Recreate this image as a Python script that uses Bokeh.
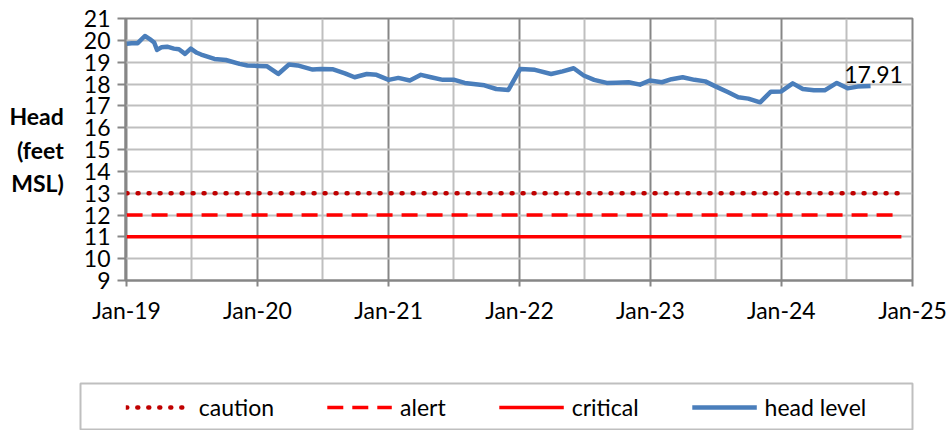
import pandas as pd
from bokeh.plotting import figure
from bokeh.layouts import column
from bokeh.models import (Range1d, FixedTicker, Legend, LegendItem, ColumnDataSource)
from bokeh.core.properties import value
from bokeh.embed import file_html
from bokeh.resources import INLINE

# ---------------- data ----------------
head_dates = ["2019-01-01", "2019-01-15", "2019-02-01", "2019-02-21", "2019-03-10", "2019-03-19",
              "2019-03-27", "2019-04-08", "2019-04-24", "2019-05-13", "2019-05-27", "2019-06-13",
              "2019-06-29", "2019-07-16", "2019-07-28", "2019-09-03", "2019-10-05", "2019-11-12",
              "2019-12-04", "2020-01-01", "2020-01-28", "2020-02-28", "2020-03-29", "2020-04-22",
              "2020-06-03", "2020-06-26", "2020-07-28", "2020-09-01", "2020-09-28", "2020-11-01",
              "2020-11-28", "2021-01-01", "2021-01-28", "2021-03-01", "2021-04-01", "2021-04-29",
              "2021-06-01", "2021-07-01", "2021-08-01", "2021-09-25", "2021-10-28", "2021-12-01",
              "2022-01-03", "2022-02-13", "2022-03-30", "2022-05-01", "2022-06-01", "2022-06-29",
              "2022-07-28", "2022-09-01", "2022-09-28", "2022-11-01", "2022-12-03", "2022-12-30",
              "2023-02-02", "2023-03-01", "2023-04-01", "2023-05-04", "2023-06-03", "2023-07-03",
              "2023-08-06", "2023-09-03", "2023-10-01", "2023-11-03", "2023-12-03", "2024-01-01",
              "2024-02-02", "2024-03-01", "2024-04-01", "2024-05-01", "2024-06-04", "2024-07-04",
              "2024-08-01", "2024-09-06"]
head_values = [19.84, 19.87, 19.87, 20.20, 20.02, 19.90,
               19.56, 19.68, 19.71, 19.62, 19.59, 19.38,
               19.62, 19.43, 19.35, 19.15, 19.10, 18.92,
               18.85, 18.83, 18.81, 18.46, 18.89, 18.85,
               18.66, 18.69, 18.68, 18.49, 18.31, 18.46,
               18.42, 18.19, 18.28, 18.16, 18.42, 18.31,
               18.19, 18.20, 18.05, 17.94, 17.77, 17.73,
               18.69, 18.65, 18.46, 18.58, 18.72, 18.39,
               18.19, 18.05, 18.06, 18.08, 17.97, 18.16,
               18.08, 18.22, 18.31, 18.19, 18.12, 17.88,
               17.62, 17.39, 17.33, 17.16, 17.65, 17.66,
               18.03, 17.77, 17.71, 17.71, 18.05, 17.80,
               17.88, 17.91]

threshold_dates = ["2019-01-01", "2024-12-01"]
caution_level = 13
alert_level = 12
critical_level = 11

x_tick_dates = ["2019-01-01", "2020-01-01", "2021-01-01", "2022-01-01",
                "2023-01-01", "2024-01-01", "2025-01-01"]
x_tick_labels = ["Jan-19", "Jan-20", "Jan-21", "Jan-22", "Jan-23", "Jan-24", "Jan-25"]
x_minor_dates = ["2019-07-01", "2020-07-01", "2021-07-01", "2022-07-01",
                 "2023-07-01", "2024-07-01"]
y_ticks = list(range(9, 22))
legend_labels = ["caution", "alert", "critical", "head level"]

# ---------------- styles ----------------
def ms(d):
    return pd.Timestamp(d).value / 1e6

FONT = "Lato"
FS = "23px"
CAUTION = dict(line_color="#C00000", line_width=4.5, line_dash="1 10", line_cap="round")
ALERT = dict(line_color="#FF0000", line_width=3.5, line_dash="16 9")
CRITICAL = dict(line_color="#FF0000", line_width=3.5)
HEAD = dict(line_color="#4A7EBB", line_width=4.5, line_join="round")

hx = pd.to_datetime(head_dates)
tx = pd.to_datetime(threshold_dates)

# ---------------- main chart ----------------
fig = figure(
    x_axis_type="datetime",
    frame_width=787, frame_height=262,
    min_border_left=125, min_border_right=38, min_border_top=18, min_border_bottom=60,
    output_backend="svg", toolbar_location=None,
    x_range=Range1d(ms("2018-12-29"), ms("2025-01-01")),
    y_range=Range1d(9, 21),
)
fig.background_fill_color = "white"
fig.border_fill_color = "white"
fig.outline_line_color = "#868686"
fig.outline_line_width = 2

fig.xgrid.grid_line_color = "#868686"
fig.xgrid.grid_line_width = 2
fig.xgrid.minor_grid_line_color = "#BFBFBF"
fig.xgrid.minor_grid_line_width = 2
fig.ygrid.grid_line_color = "#BFBFBF"
fig.ygrid.grid_line_width = 2

xt = [ms(d) for d in x_tick_dates]
fig.xaxis.ticker = FixedTicker(ticks=xt, minor_ticks=[ms(d) for d in x_minor_dates])
fig.xaxis.major_label_overrides = {t: lab for t, lab in zip(xt, x_tick_labels)}
fig.yaxis.ticker = FixedTicker(ticks=y_ticks, minor_ticks=[])
for ax in (fig.xaxis[0], fig.yaxis[0]):
    ax.axis_line_color = "#868686"
    ax.axis_line_width = 2
    ax.major_tick_line_color = "#868686"
    ax.major_tick_line_width = 2
    ax.major_tick_in = 0
    ax.minor_tick_in = 0
    ax.minor_tick_out = 0
    ax.major_label_text_font = FONT
    ax.major_label_text_font_size = FS
    ax.major_label_text_color = "black"
fig.xaxis.major_tick_out = 6
fig.xaxis.major_label_standoff = 9
fig.yaxis.major_tick_out = 8
fig.yaxis.major_label_standoff = 7

fig.yaxis.axis_label = "Head\n(feet\nMSL)"
fig.yaxis.axis_label_orientation = "horizontal"
fig.yaxis.axis_label_text_font = FONT
fig.yaxis.axis_label_text_font_size = FS
fig.yaxis.axis_label_text_font_style = "bold"
fig.yaxis.axis_label_text_color = "black"
fig.yaxis.axis_label_standoff = 17
fig.yaxis.axis_label_text_align = "center"

fig.line(tx, [caution_level] * len(tx), **CAUTION)
fig.line(tx, [alert_level] * len(tx), **ALERT)
fig.line(tx, [critical_level] * len(tx), **CRITICAL)
fig.line(hx, head_values, **HEAD)

last = ColumnDataSource(dict(x=[hx[-1]], y=[head_values[-1]], t=[f"{head_values[-1]:.2f}"]))
fig.text(x="x", y="y", text="t", source=last, text_align="center", text_baseline="bottom",
         y_offset=-3, x_offset=3, text_font=value(FONT), text_font_size=FS, text_color="black")

# ---------------- legend strip ----------------
leg = figure(
    frame_width=832, frame_height=47,
    min_border_left=80, min_border_right=38, min_border_top=43, min_border_bottom=0,
    output_backend="svg", toolbar_location=None,
    x_axis_location=None, y_axis_location=None,
    x_range=Range1d(0, 1), y_range=Range1d(0, 1),
)
leg.grid.visible = False
leg.outline_line_color = "#BFBFBF"
leg.outline_line_width = 2
leg.background_fill_color = "white"
leg.border_fill_color = "white"

for f in (fig, leg):
    try:
        f.frame_align = False
    except Exception:
        pass

nan = float("nan")
styles = [CAUTION, ALERT, CRITICAL, HEAD]
items = [LegendItem(label=lab, renderers=[leg.line([nan], [nan], **st)])
         for lab, st in zip(legend_labels, styles)]
legend = Legend(
    items=items, orientation="horizontal", location="center", margin=0,
    glyph_width=65, glyph_height=20, label_height=20, label_standoff=8, spacing=53, padding=0,
    label_text_font=FONT, label_text_font_size=FS, label_text_color="black",
    border_line_color=None, background_fill_alpha=0,
)
leg.add_layout(legend, "center")

p = column(fig, leg, spacing=0)
open("out.html", "w").write(file_html(p, INLINE))
